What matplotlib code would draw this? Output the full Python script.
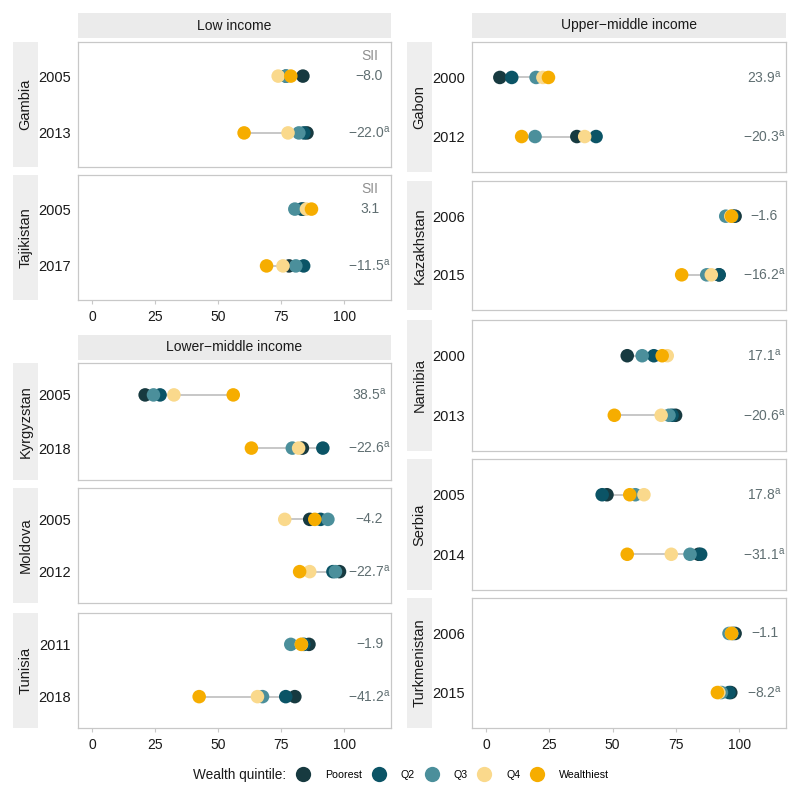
'''
Dot plot of coverage by wealth quintile, two surveys per country
'''
import numpy as np
from matplotlib import pyplot as plt
from matplotlib.lines import Line2D

plt.rcParams['font.family'] = ['Liberation Sans', 'DejaVu Sans']
plt.rcParams['mathtext.fontset'] = 'custom'
plt.rcParams['mathtext.rm'] = 'Liberation Sans'
plt.rcParams['mathtext.it'] = 'Liberation Sans'

quintiles = ["Poorest", "Q2", "Q3", "Q4", "Wealthiest"]
colors = ["#173a40", "#0b5466", "#4b8f9b", "#fad98c", "#f6ad00"]

# left column
gambia_years = ["2005", "2013"]
gambia_vals = [[83.6, 76.8, 77.0, 73.8, 78.8],
               [85.2, 84.0, 82.0, 77.7, 60.3]]
gambia_sii = ["-8.0", "-22.0"]
gambia_sig = [False, True]

tajik_years = ["2005", "2017"]
tajik_vals = [[83.6, 83.0, 80.4, 85.0, 87.0],
              [78.1, 83.9, 80.8, 75.7, 69.2]]
tajik_sii = ["3.1", "-11.5"]
tajik_sig = [False, True]

kyrgyz_years = ["2005", "2018"]
kyrgyz_vals = [[21.1, 27.0, 24.4, 32.5, 56.0],
               [83.4, 91.5, 79.4, 81.9, 63.2]]
kyrgyz_sii = ["38.5", "-22.6"]
kyrgyz_sig = [True, True]

moldova_years = ["2005", "2012"]
moldova_vals = [[86.3, 90.6, 93.5, 76.4, 88.3],
                [98.1, 95.5, 96.5, 86.3, 82.3]]
moldova_sii = ["-4.2", "-22.7"]
moldova_sig = [False, True]

tunisia_years = ["2011", "2018"]
tunisia_vals = [[86.0, 84.0, 78.8, 83.0, 83.0],
                [80.4, 76.8, 67.6, 65.6, 42.5]]
tunisia_sii = ["-1.9", "-41.2"]
tunisia_sig = [False, True]

# right column
gabon_years = ["2000", "2012"]
gabon_vals = [[5.5, 10.2, 19.8, 22.5, 24.7],
              [35.9, 43.5, 19.4, 39.0, 14.1]]
gabon_sii = ["23.9", "-20.3"]
gabon_sig = [True, True]

kazakh_years = ["2006", "2015"]
kazakh_vals = [[98.4, 97.5, 94.7, 96.7, 97.0],
               [92.0, 92.1, 87.2, 89.0, 77.3]]
kazakh_sii = ["-1.6", "-16.2"]
kazakh_sig = [False, True]

namibia_years = ["2000", "2013"]
namibia_vals = [[55.8, 66.3, 61.7, 71.6, 69.6],
                [74.9, 73.5, 72.3, 69.2, 50.7]]
namibia_sii = ["17.1", "-20.6"]
namibia_sig = [True, True]

serbia_years = ["2005", "2014"]
serbia_vals = [[47.8, 45.9, 59.0, 62.4, 56.8],
               [84.0, 84.8, 80.6, 73.2, 55.8]]
serbia_sii = ["17.8", "-31.1"]
serbia_sig = [True, True]

turkmen_years = ["2006", "2015"]
turkmen_vals = [[98.4, 97.5, 96.0, 97.0, 97.0],
                [96.7, 96.0, 93.0, 92.0, 91.4]]
turkmen_sii = ["-1.1", "-8.2"]
turkmen_sig = [False, True]

W, H = 800, 800
fig = plt.figure(figsize=(8, 8), dpi=100)


def px_axes(x0, x1, y0, y1):
    return fig.add_axes([x0 / W, 1 - y1 / H, (x1 - x0) / W, (y1 - y0) / H])


def header(x0, x1, y0, y1, label):
    ax = px_axes(x0, x1, y0, y1)
    ax.set_facecolor("#ebebeb")
    for s in ax.spines.values():
        s.set_visible(False)
    ax.set_xticks([])
    ax.set_yticks([])
    ax.text(0.5, 0.5, label, ha="center", va="center", fontsize=10,
            color="#1a1a1a", transform=ax.transAxes)


def panel(x0, x1, y0, y1, country, years, vals, sii, sig, bottom=False, show_sii_head=False):
    # grey country strip on the left
    st = px_axes(x0 - 65, x0 - 40, y0, y1)
    st.set_facecolor("#eeeeee")
    for s in st.spines.values():
        s.set_visible(False)
    st.set_xticks([])
    st.set_yticks([])
    st.text(0.5, 0.5, country, rotation=90, ha="center", va="center",
            fontsize=10.5, color="#1a1a1a", transform=st.transAxes)

    ax = px_axes(x0, x1, y0, y1)
    for i, row in enumerate(vals):
        row = np.array(row)
        ax.plot([row.min(), row.max()], [i, i], color="#b8b8b8", lw=1.1, zorder=1)
        for q in range(len(quintiles)):
            ax.scatter(row[q], i, s=95, color=colors[q], edgecolors="none", zorder=2 + q)
        lab = sii[i].replace("-", "\u2212")
        if sig[i]:
            lab = r"$\mathregular{" + sii[i] + "^{a}}$"
        ax.text(110, i, lab, ha="center", va="center", fontsize=10, color="#5f6e71")
    if show_sii_head:
        ax.text(110, -0.35, "SII", ha="center", va="center", fontsize=10, color="#8f8f8f")

    ax.set_xlim(-5.5, 118.5)
    ax.set_ylim(1.6, -0.6)
    ax.set_yticks([0, 1])
    ax.set_yticklabels(years, fontsize=10.5, color="#1a1a1a")
    ax.tick_params(axis="y", length=0, pad=5)
    if bottom:
        ax.set_xticks([0, 25, 50, 75, 100])
        ax.tick_params(axis="x", length=3, color="#c8c8c8", labelsize=10,
                       labelcolor="#1a1a1a", pad=4)
    else:
        ax.set_xticks([])
    for s in ax.spines.values():
        s.set_color("#c8c8c8")
        s.set_linewidth(0.9)
    return ax


LX0, LX1 = 78, 391
RX0, RX1 = 472, 786

header(LX0, LX1, 13, 38, "Low income")
panel(LX0, LX1, 42, 167, "Gambia", gambia_years, gambia_vals, gambia_sii, gambia_sig, show_sii_head=True)
panel(LX0, LX1, 175, 300, "Tajikistan", tajik_years, tajik_vals, tajik_sii, tajik_sig,
      bottom=True, show_sii_head=True)

header(LX0, LX1, 335, 360, "Lower\u2212middle income")
panel(LX0, LX1, 363, 480, "Kyrgyzstan", kyrgyz_years, kyrgyz_vals, kyrgyz_sii, kyrgyz_sig)
panel(LX0, LX1, 488, 603, "Moldova", moldova_years, moldova_vals, moldova_sii, moldova_sig)
panel(LX0, LX1, 613, 728, "Tunisia", tunisia_years, tunisia_vals, tunisia_sii, tunisia_sig, bottom=True)

header(RX0, RX1, 13, 38, "Upper\u2212middle income")
panel(RX0, RX1, 42, 172, "Gabon", gabon_years, gabon_vals, gabon_sii, gabon_sig)
panel(RX0, RX1, 181, 310, "Kazakhstan", kazakh_years, kazakh_vals, kazakh_sii, kazakh_sig)
panel(RX0, RX1, 320, 451, "Namibia", namibia_years, namibia_vals, namibia_sii, namibia_sig)
panel(RX0, RX1, 459, 590, "Serbia", serbia_years, serbia_vals, serbia_sii, serbia_sig)
panel(RX0, RX1, 598, 728, "Turkmenistan", turkmen_years, turkmen_vals, turkmen_sii, turkmen_sig,
      bottom=True)

# legend
fig.text(193 / W, 1 - 775 / H, "Wealth quintile:", ha="left", va="center", fontsize=9.8, color="#1a1a1a")
handles = [Line2D([], [], marker="o", ls="none", markersize=11, markerfacecolor=c,
                  markeredgecolor="none") for c in colors]
fig.legend(handles, quintiles, loc="center left", bbox_to_anchor=(297 / W, 1 - 775 / H),
           ncol=5, frameon=False, fontsize=7.7, handletextpad=1.45, columnspacing=0.95,
           handlelength=1.2, borderaxespad=0, borderpad=0)

fig.savefig("out.png", dpi=100)
